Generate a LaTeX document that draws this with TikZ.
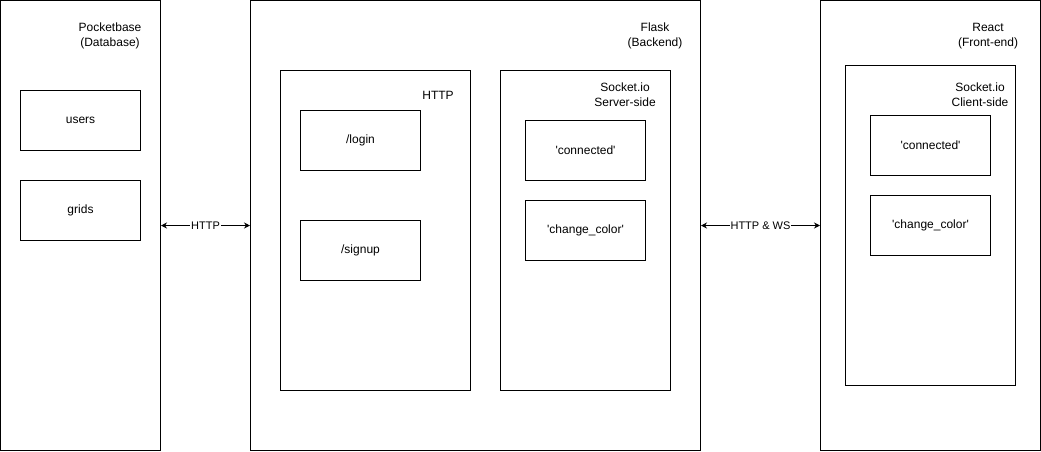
\documentclass[tikz,border=0pt]{standalone}
\usepackage{fontspec}
\setmainfont{Liberation Sans}
\usetikzlibrary{arrows.meta,positioning}
\newcommand{\sq}[1]{\textquotesingle#1\textquotesingle}

\begin{document}
\begin{tikzpicture}[
  x=0.75pt, y=-0.75pt,
  tier/.style={rectangle, draw, line width=0.75pt, minimum width=#1, minimum height=337.5pt},
  group/.style={rectangle, draw, line width=0.75pt, minimum width=#1, minimum height=240pt},
  item/.style={rectangle, draw, line width=0.75pt, minimum width=90pt,
    minimum height=45pt, font=\fontsize{9pt}{10.5pt}\selectfont},
  caption/.style={align=center, font=\fontsize{9pt}{11.25pt}\selectfont},
  linklabel/.style={fill=white, inner sep=0.5pt, font=\fontsize{8.25pt}{10pt}\selectfont},
  arr/.style={{Stealth[length=4.5pt,width=4.5pt]}-{Stealth[length=4.5pt,width=4.5pt]}, line width=0.75pt}
]
  \useasboundingbox (0,0) rectangle (1041,451);

  % Tiers
  \node[tier=120pt] (db) at (80.5,225.5) {};
  \node[tier=337.5pt] (flask) at (475.5,225.5) {};
  \node[tier=165pt] (react) at (930.5,225.5) {};
  \node[caption] (dblabel) at (110,36) {Pocketbase\\(Database)};
  \node[caption] (flasklabel) at (655,36) {Flask\\(Backend)};
  \node[caption] (reactlabel) at (988,36) {React\\(Front-end)};

  % Database collections
  \node[item] (users) at (80.5,120.5) {users};
  \node[item] (grids) at (80.5,210.5) {grids};

  % Backend groups
  \node[group=142.5pt] (http) at (375.5,230.5) {};
  \node[caption] (httplabel) at (438,95) {HTTP};
  \node[item] (login) at (360.5,140.5) {/login};
  \node[item] (signup) at (360.5,250.5) {/signup};

  \node[group=127.5pt] (server) at (585.5,230.5) {};
  \node[caption] (serverlabel) at (625,95) {Socket.io\\Server-side};
  \node[item] (srvconnected) at (585.5,150.5) {\sq{connected}};
  \node[item] (srvchange) at (585.5,230.5) {\sq{change\_color}};

  % Front-end group
  \node[group=127.5pt] (client) at (930.5,225.5) {};
  \node[caption] (clientlabel) at (980,95) {Socket.io\\Client-side};
  \node[item] (cliconnected) at (930.5,145.5) {\sq{connected}};
  \node[item] (clichange) at (930.5,225.5) {\sq{change\_color}};

  % Arrows
  \draw[arr] (db) -- node[linklabel] {HTTP} (flask);
  \draw[arr] (flask) -- node[linklabel] {HTTP \& WS} (react);
\end{tikzpicture}
\end{document}
